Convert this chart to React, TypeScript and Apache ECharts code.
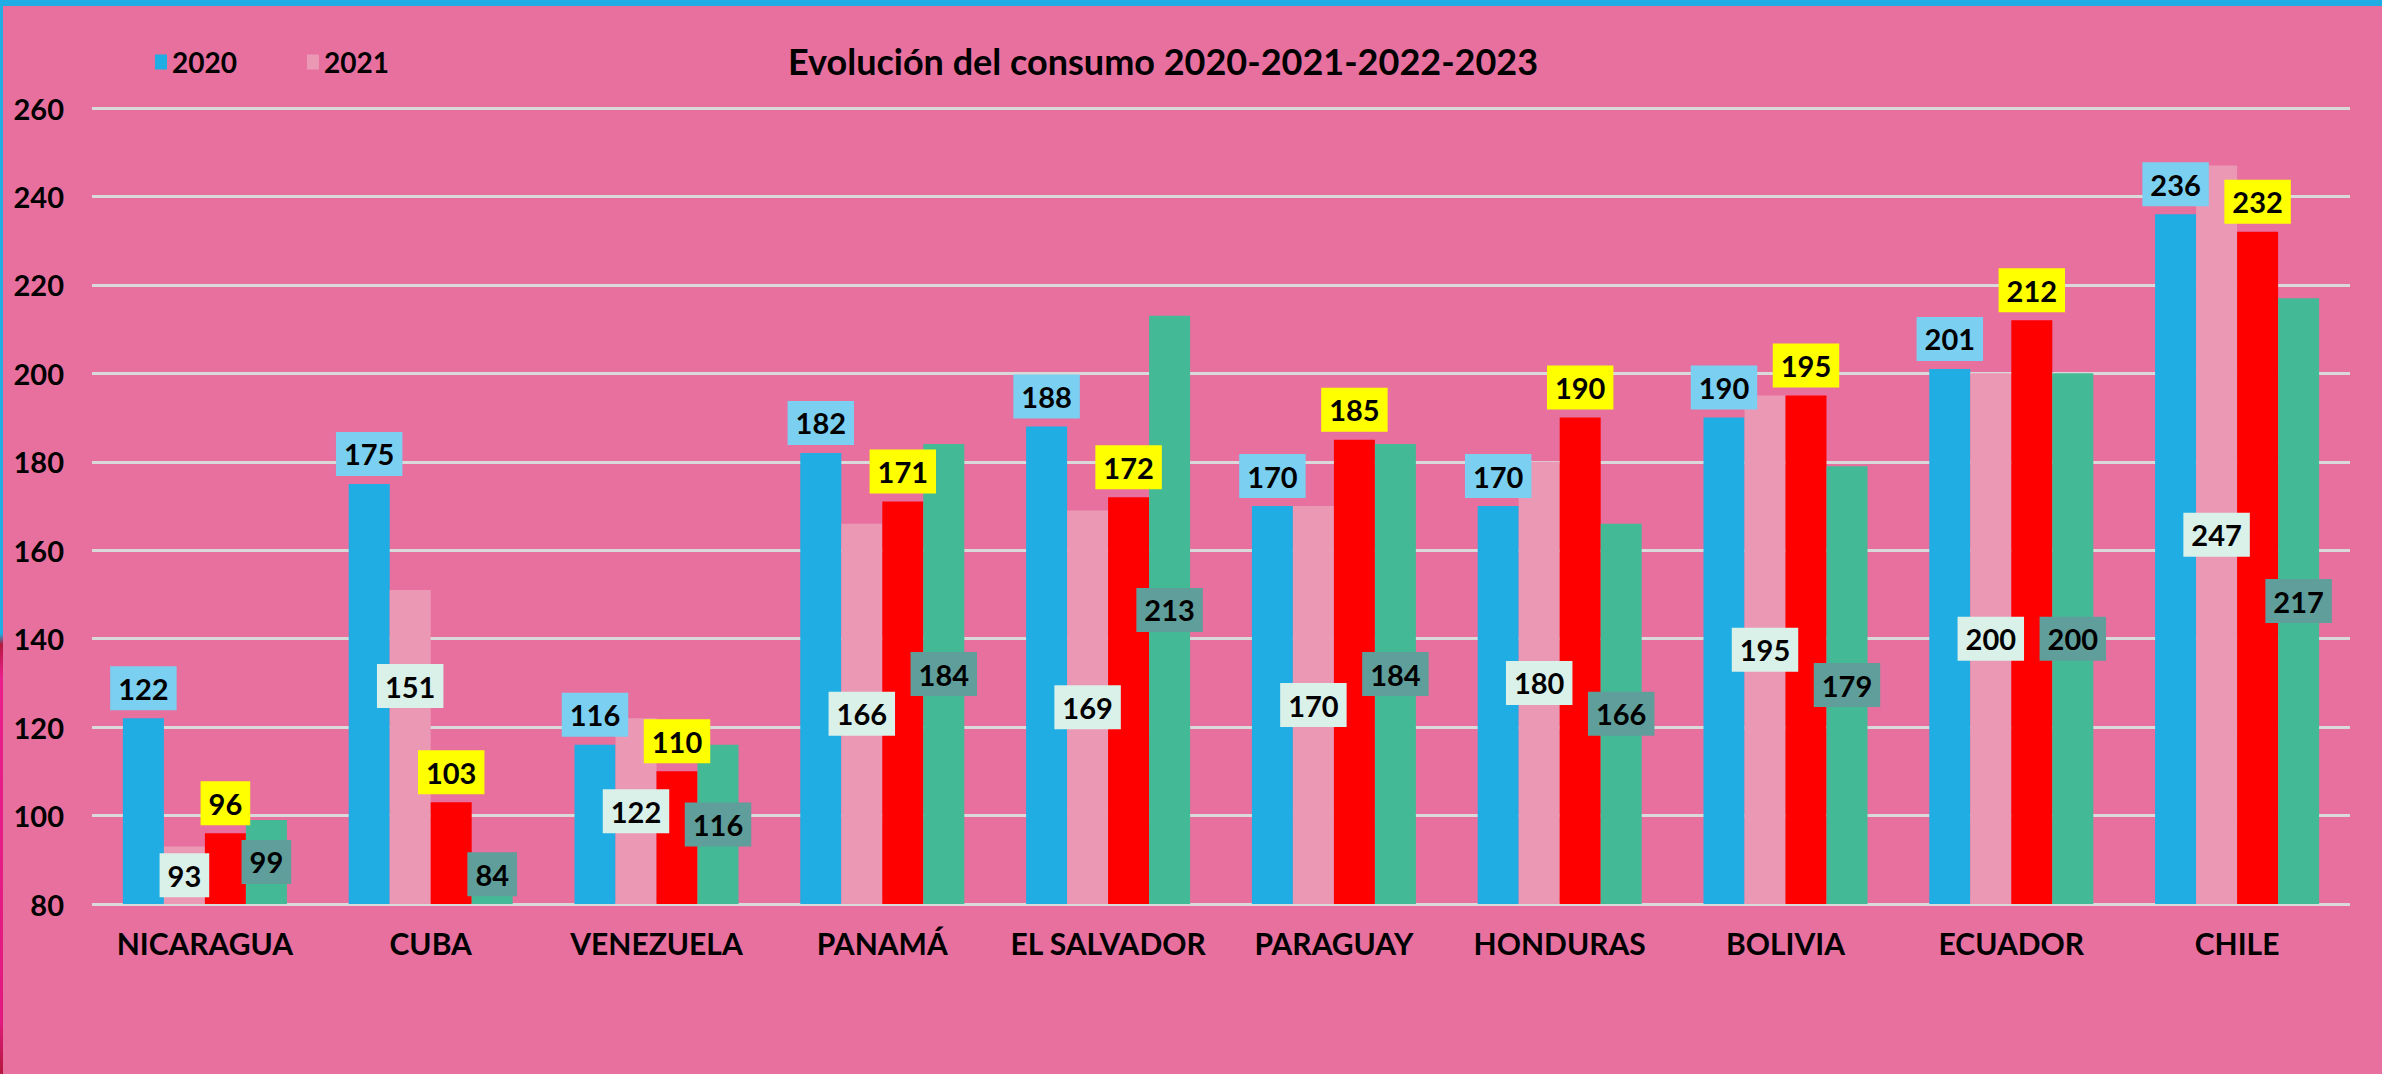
import React, { useEffect, useRef } from "react";
import * as echarts from "echarts";

const categories = ["NICARAGUA", "CUBA", "VENEZUELA", "PANAMÁ", "EL SALVADOR", "PARAGUAY", "HONDURAS", "BOLIVIA", "ECUADOR", "CHILE"];
const seriesNames = ["2020", "2021", "2022", "2023"];
const v2020 = [122, 175, 116, 182, 188, 170, 170, 190, 201, 236];
const v2021 = [93, 151, 122, 166, 169, 170, 180, 195, 200, 247];
const v2022 = [96, 103, 110, 171, 172, 185, 190, 195, 212, 232];
const v2023 = [99, 84, 116, 184, 213, 184, 166, 179, 200, 217];
const yMin = 80;
const yMax = 260;
const yStep = 20;
const title = "Evolución del consumo 2020-2021-2022-2023";

const FONT = "Lato";
const BG = "#E7709F";
const BLUE = "#1FADE3";

// manual label nudges (index -> pixel offset) as in the original
const offsets2021: Record<number, [number, number]> = { 1: [0, -61] };
const offsets2023: Record<number, [number, number]> = { 1: [0, -21] };

function withOffsets(values: number[], offs: Record<number, [number, number]>) {
  return values.map((v, i) => (offs[i] ? { value: v, label: { offset: offs[i] } } : v));
}

const labelBase = {
  show: true,
  color: "#000",
  fontFamily: FONT,
  fontWeight: "bold" as const,
  fontSize: 29,
  lineHeight: 30,
  padding: [7, 8, 7, 8],
};

export default function App() {
  const ref = useRef<HTMLDivElement>(null);
  useEffect(() => {
    if (!ref.current) return;
    const chart = echarts.init(ref.current, null, { renderer: "svg" });
    chart.setOption({
      animation: false,
      backgroundColor: BG,
      textStyle: { fontFamily: FONT },
      title: {
        text: title,
        left: 783,
        top: 38,
        textStyle: { fontFamily: FONT, fontWeight: "bold", fontSize: 36, color: "#000" },
      },
      legend: {
        data: ["2020", "2021"],
        left: 150,
        top: 43,
        icon: "rect",
        itemWidth: 12,
        itemHeight: 15,
        itemGap: 70,
        textStyle: { fontFamily: FONT, fontWeight: "bold", fontSize: 28, color: "#000" },
      },
      graphic: [
        { type: "rect", left: 0, top: 0, shape: { width: 2382, height: 6 }, style: { fill: BLUE } },
        {
          type: "rect",
          left: 0,
          top: 0,
          shape: { width: 3, height: 1074 },
          style: {
            fill: new echarts.graphic.LinearGradient(0, 0, 0, 1, [
              { offset: 0, color: BLUE },
              { offset: 0.59, color: BLUE },
              { offset: 0.6, color: "#B4183C" },
              { offset: 0.63, color: "#E91E8C" },
              { offset: 0.95, color: "#E01A80" },
              { offset: 1, color: "#B4183C" },
            ]),
          },
        },
      ],
      grid: { left: 92, right: 32, top: 108, bottom: 170, containLabel: false },
      xAxis: {
        type: "category",
        data: categories,
        axisLine: { show: false },
        axisTick: { show: false },
        axisLabel: { color: "#000", fontFamily: FONT, fontWeight: "bold", fontSize: 30, margin: 24, interval: 0 },
      },
      yAxis: {
        type: "value",
        min: yMin,
        max: yMax,
        interval: yStep,
        axisLine: { show: false },
        axisTick: { show: false },
        axisLabel: { color: "#000", fontFamily: FONT, fontWeight: "bold", fontSize: 29, margin: 28 },
        splitLine: { lineStyle: { color: "#D9D9D9", width: 3 } },
      },
      series: [
        {
          name: seriesNames[0],
          type: "bar",
          data: v2020,
          barWidth: 41,
          barGap: "0%",
          itemStyle: { color: BLUE },
          label: { ...labelBase, position: "top", distance: 8, backgroundColor: "#7BCFF0" },
        },
        {
          name: seriesNames[1],
          type: "bar",
          data: withOffsets(v2021, offsets2021),
          barWidth: 41,
          barGap: "0%",
          itemStyle: { color: "#EB98B4" },
          label: { ...labelBase, position: "inside", backgroundColor: "#DAF1EA" },
        },
        {
          name: seriesNames[2],
          type: "bar",
          data: v2022,
          barWidth: 41,
          barGap: "0%",
          itemStyle: { color: "#FF0000" },
          label: { ...labelBase, position: "top", distance: 8, backgroundColor: "#FFFF00" },
        },
        {
          name: seriesNames[3],
          type: "bar",
          data: withOffsets(v2023, offsets2023),
          barWidth: 41,
          barGap: "0%",
          itemStyle: { color: "#43B995" },
          label: { ...labelBase, position: "inside", backgroundColor: "#5F9E9A" },
        },
      ],
    });
    return () => chart.dispose();
  }, []);
  return <div ref={ref} style={{ position: "fixed", left: 0, top: 0, width: 2382, height: 1074 }} />;
}
